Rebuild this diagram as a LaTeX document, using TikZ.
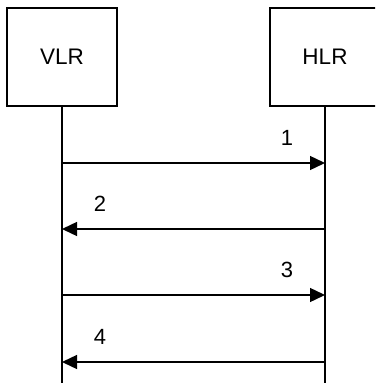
\documentclass[tikz,border=0pt]{standalone}
\usepackage{fontspec}
\setmainfont{Liberation Sans}
\usetikzlibrary{arrows.meta, positioning, calc}
\tikzset{
  ent/.style={rectangle, draw=black, line width=1.2pt, minimum width=110pt,
    minimum height=98pt, font=\fontsize{22.5}{25}\selectfont, inner sep=0pt},
  life/.style={line width=1.2pt},
  msg/.style={-{Triangle[length=15pt, width=14pt]}, line width=1.4pt},
  num/.style={font=\fontsize{22}{25}\selectfont}
}
\begin{document}
\begin{tikzpicture}[x=1pt, y=-1pt]
  \useasboundingbox (0,0) rectangle (375,383);
  \clip (0,0) rectangle (375,383);
  \node[ent] (vlr) at (62,57) {VLR};
  \node[ent] (hlr) at (325,57) {HLR};
  \coordinate (vend) at (62,383);
  \coordinate (hend) at (325,383);
  \draw[life] (vlr.south) -- (vend);
  \draw[life] (hlr.south) -- (hend);
  % messages
  \coordinate (v1) at (62,163);  \coordinate (h1) at (325,163);
  \coordinate (v2) at (62,229);  \coordinate (h2) at (325,229);
  \coordinate (v3) at (62,295);  \coordinate (h3) at (325,295);
  \coordinate (v4) at (62,362);  \coordinate (h4) at (325,362);
  \draw[msg] (v1) -- (h1);
  \draw[msg] (h2) -- (v2);
  \draw[msg] (v3) -- (h3);
  \draw[msg] (h4) -- (v4);
  \node[num] (n1) at (287,138) {1};
  \node[num] (n2) at (100,204) {2};
  \node[num] (n3) at (287,270) {3};
  \node[num] (n4) at (100,337) {4};
\end{tikzpicture}
\end{document}
